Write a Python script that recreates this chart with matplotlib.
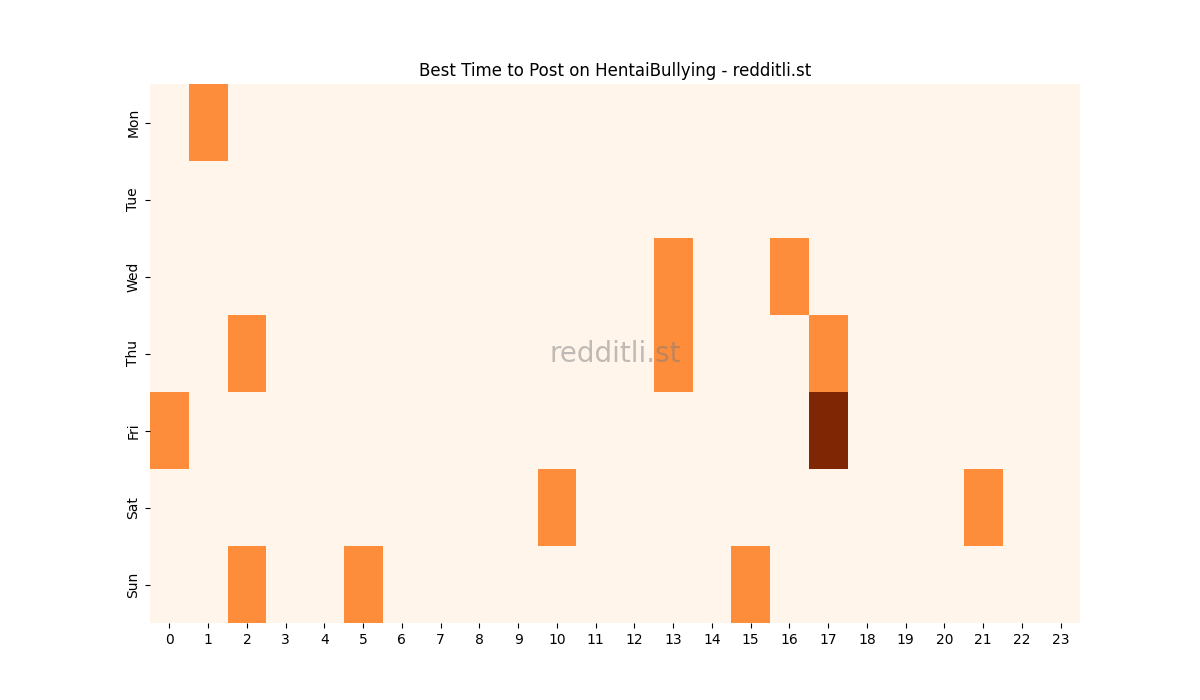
import numpy as np
import matplotlib
matplotlib.use("Agg")
import matplotlib.pyplot as plt
import seaborn as sns

DAYS = ["Mon", "Tue", "Wed", "Thu", "Fri", "Sat", "Sun"]
HOURS = list(range(24))
# (day, hour, post count)
POSTS = [
    ("Mon", 1, 1),
    ("Wed", 13, 1), ("Wed", 16, 1),
    ("Thu", 2, 1), ("Thu", 13, 1), ("Thu", 17, 1),
    ("Fri", 0, 1), ("Fri", 17, 2),
    ("Sat", 10, 1), ("Sat", 21, 1),
    ("Sun", 2, 1), ("Sun", 5, 1), ("Sun", 15, 1),
]

grid = np.zeros((len(DAYS), len(HOURS)))
for day, hour, count in POSTS:
    grid[DAYS.index(day), hour] = count

fig, ax = plt.subplots(figsize=(12, 7), dpi=100)
sns.heatmap(grid, cmap="Oranges", cbar=False, ax=ax,
            xticklabels=HOURS, yticklabels=DAYS)
ax.set_title("Best Time to Post on HentaiBullying - redditli.st")
ax.text(0.5, 0.5, "redditli.st", transform=ax.transAxes, ha="center", va="center",
        fontsize=20, color="grey", alpha=0.5)
fig.savefig("out.png", dpi=100)
